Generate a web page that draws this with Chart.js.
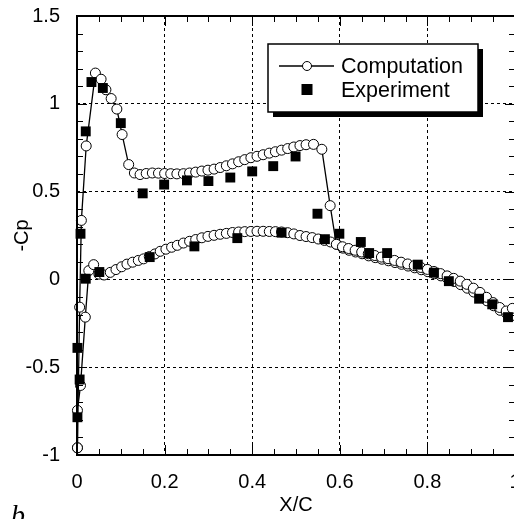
<!DOCTYPE html>
<html lang="en">
<head>
<meta charset="UTF-8">
<title>Cp distribution</title>
<script src="https://cdn.jsdelivr.net/npm/chart.js"></script>
<style>
  html, body { margin: 0; padding: 0; background: #fff; overflow: hidden; }
  canvas { display: block; }
</style>
</head>
<body>
<canvas id="cpChart" width="540" height="519"></canvas>
<script>
// tick labels
const xTicks = [0, 0.2, 0.4, 0.6, 0.8, 1];
const yTicks = [-1, -0.5, 0, 0.5, 1, 1.5];

// computation, upper surface (leading edge -> trailing edge)
const upperX = [0.001, 0.006, 0.010, 0.021, 0.042, 0.055, 0.066, 0.078, 0.091, 0.103, 0.118, 0.131, 0.144,
  0.158, 0.172, 0.186, 0.200, 0.214, 0.228, 0.243, 0.257, 0.271, 0.285, 0.299, 0.313, 0.327, 0.341, 0.355,
  0.369, 0.383, 0.397, 0.411, 0.425, 0.439, 0.453, 0.467, 0.481, 0.495, 0.509, 0.523, 0.540, 0.559, 0.578,
  0.592, 0.606, 0.620, 0.635, 0.650, 0.665, 0.680, 0.695, 0.710, 0.725, 0.740, 0.755, 0.770, 0.785, 0.800,
  0.815, 0.830, 0.845, 0.860, 0.875, 0.890, 0.905, 0.920, 0.935, 0.950, 0.965, 0.980, 0.994];
const upperY = [-0.959, -0.158, 0.336, 0.760, 1.175, 1.140, 1.080, 1.030, 0.970, 0.825, 0.654, 0.606, 0.597,
  0.603, 0.606, 0.605, 0.603, 0.602, 0.601, 0.602, 0.606, 0.611, 0.617, 0.622, 0.628, 0.637, 0.647, 0.658,
  0.670, 0.682, 0.693, 0.701, 0.710, 0.719, 0.727, 0.736, 0.745, 0.754, 0.762, 0.767, 0.769, 0.741, 0.420,
  0.200, 0.186, 0.176, 0.166, 0.156, 0.146, 0.136, 0.127, 0.118, 0.108, 0.098, 0.088, 0.078, 0.068, 0.057,
  0.045, 0.033, 0.020, 0.006, -0.010, -0.028, -0.050, -0.074, -0.102, -0.132, -0.160, -0.180, -0.165];

// computation, lower surface
const lowerX = [0.001, 0.001, 0.008, 0.019, 0.027, 0.038, 0.050, 0.062, 0.076, 0.089, 0.102, 0.114, 0.127,
  0.140, 0.152, 0.165, 0.178, 0.190, 0.203, 0.216, 0.229, 0.243, 0.257, 0.271, 0.285, 0.299, 0.313, 0.327,
  0.341, 0.355, 0.369, 0.383, 0.397, 0.411, 0.425, 0.439, 0.453, 0.467, 0.481, 0.495, 0.509, 0.523, 0.537,
  0.551, 0.565, 0.579, 0.593, 0.607, 0.621, 0.636, 0.651, 0.666, 0.681, 0.696, 0.711, 0.726, 0.741, 0.756,
  0.771, 0.786, 0.801, 0.816, 0.831, 0.846, 0.861, 0.876, 0.891, 0.906, 0.921, 0.936, 0.951, 0.966, 0.981, 0.995];
const lowerY = [-0.959, -0.746, -0.604, -0.215, 0.050, 0.084, 0.030, 0.025, 0.040, 0.056, 0.072, 0.087, 0.098,
  0.108, 0.117, 0.130, 0.145, 0.160, 0.172, 0.183, 0.194, 0.207, 0.217, 0.227, 0.237, 0.245, 0.251, 0.257,
  0.262, 0.267, 0.270, 0.272, 0.273, 0.274, 0.274, 0.273, 0.272, 0.270, 0.266, 0.259, 0.250, 0.244, 0.238,
  0.230, 0.222, 0.213, 0.200, 0.178, 0.166, 0.156, 0.146, 0.134, 0.124, 0.115, 0.106, 0.096, 0.086, 0.076,
  0.066, 0.055, 0.044, 0.032, 0.020, 0.005, -0.012, -0.030, -0.050, -0.072, -0.096, -0.122, -0.150, -0.176,
  -0.195, -0.205];

// experiment
const expX = [0.001, 0.006, 0.001, 0.008, 0.020, 0.020, 0.033, 0.051, 0.059, 0.100, 0.150, 0.166, 0.199,
  0.251, 0.268, 0.300, 0.350, 0.366, 0.400, 0.448, 0.467, 0.499, 0.549, 0.566, 0.599, 0.648, 0.667, 0.708,
  0.778, 0.815, 0.849, 0.918, 0.948, 0.984];
const expY = [-0.785, -0.570, -0.390, 0.260, 0.004, 0.843, 1.124, 0.042, 1.090, 0.890, 0.490, 0.127, 0.540,
  0.564, 0.188, 0.560, 0.580, 0.235, 0.615, 0.645, 0.266, 0.700, 0.374, 0.229, 0.260, 0.213, 0.150, 0.150,
  0.084, 0.038, -0.010, -0.110, -0.142, -0.215];

const FONT = "'Liberation Sans', Arial, sans-serif";
const toPts = (xs, ys) => xs.map((x, i) => ({ x: x, y: ys[i] }));

const compStyle = {
  showLine: true,
  borderColor: '#000',
  borderWidth: 1.3,
  tension: 0,
  pointStyle: 'circle',
  pointRadius: 5,
  pointBackgroundColor: '#fff',
  pointBorderColor: '#000',
  pointBorderWidth: 1,
  clip: false
};

// frame, inward ticks, axis titles, boxed legend
const framePlugin = {
  id: 'frame',
  afterDraw(chart) {
    const { ctx, chartArea: a, scales: { x, y } } = chart;
    ctx.save();
    ctx.strokeStyle = '#000';
    ctx.lineWidth = 1;
    ctx.beginPath();
    for (let i = 0; i <= 20; i++) {
      const px = Math.round(x.getPixelForValue(i * 0.05)) + 0.5;
      const len = i % 4 === 0 ? 10 : 6;
      ctx.moveTo(px, a.bottom); ctx.lineTo(px, a.bottom - len);
      ctx.moveTo(px, a.top); ctx.lineTo(px, a.top + len);
    }
    for (let i = 0; i <= 25; i++) {
      const py = Math.round(y.getPixelForValue(-1 + i * 0.1)) + 0.5;
      const len = i % 5 === 0 ? 10 : 6;
      ctx.moveTo(a.left, py); ctx.lineTo(a.left + len, py);
      ctx.moveTo(a.right, py); ctx.lineTo(a.right - len, py);
    }
    ctx.stroke();
    ctx.lineWidth = 2;
    ctx.strokeRect(a.left, a.top, a.right - a.left, a.bottom - a.top);

    // axis titles
    ctx.fillStyle = '#000';
    ctx.font = '20px ' + FONT;
    ctx.textAlign = 'center';
    ctx.textBaseline = 'middle';
    ctx.fillText('X/C', (a.left + a.right) / 2, 505);
    ctx.save();
    ctx.translate(22, (a.top + a.bottom) / 2);
    ctx.rotate(-Math.PI / 2);
    ctx.fillText('-Cp', 0, 0);
    ctx.restore();

    // panel letter
    ctx.font = "italic 28px 'Liberation Serif', 'Times New Roman', serif";
    ctx.textAlign = 'left';
    ctx.textBaseline = 'alphabetic';
    ctx.fillText('b', 11, 524);

    // legend box with shadow
    const bx = 268, by = 44, bw = 210, bh = 68;
    ctx.fillStyle = '#000';
    ctx.fillRect(bx + 5, by + 5, bw, bh);
    ctx.fillStyle = '#fff';
    ctx.fillRect(bx, by, bw, bh);
    ctx.lineWidth = 1.5;
    ctx.strokeRect(bx, by, bw, bh);

    ctx.lineWidth = 1.3;
    ctx.beginPath();
    ctx.moveTo(279, 66); ctx.lineTo(334, 66);
    ctx.stroke();
    ctx.beginPath();
    ctx.arc(307, 66, 4.5, 0, Math.PI * 2);
    ctx.fillStyle = '#fff';
    ctx.fill();
    ctx.lineWidth = 1;
    ctx.stroke();
    ctx.fillStyle = '#000';
    ctx.fillRect(301.5, 84, 11, 11);

    ctx.font = '21.5px ' + FONT;
    ctx.textAlign = 'left';
    ctx.textBaseline = 'middle';
    ctx.fillText(chart.data.datasets[1].label, 341, 67);
    ctx.fillText(chart.data.datasets[0].label, 341, 91);
    ctx.restore();
  }
};

const edgeColor = (edges) => (c) => edges.includes(c.tick.value) ? 'rgba(0,0,0,0)' : '#000';

new Chart(document.getElementById('cpChart'), {
  type: 'scatter',
  data: {
    datasets: [
      {
        label: 'Experiment',
        data: toPts(expX, expY),
        pointStyle: 'rect',
        pointRadius: 7,
        backgroundColor: '#000',
        borderColor: '#000',
        borderWidth: 0,
        showLine: false,
        clip: false,
        order: 0
      },
      Object.assign({ label: 'Computation', data: toPts(upperX, upperY), order: 1 }, compStyle),
      Object.assign({ label: 'Computation lower', data: toPts(lowerX, lowerY), order: 2 }, compStyle)
    ]
  },
  options: {
    responsive: false,
    animation: false,
    layout: { autoPadding: false, padding: { top: 16, right: 25, left: 0, bottom: 0 } },
    plugins: { legend: { display: false }, tooltip: { enabled: false } },
    scales: {
      x: {
        type: 'linear',
        min: 0,
        max: 1,
        afterBuildTicks: (s) => { s.ticks = xTicks.map(v => ({ value: v })); },
        afterFit: (s) => { s.height = 64; s.paddingLeft = 0; s.paddingRight = 0; },
        ticks: { padding: 15, color: '#000', maxRotation: 0, font: { family: FONT, size: 20 },
          callback: (v) => String(v) },
        grid: { drawTicks: false, lineWidth: 1, color: edgeColor([0, 1]) },
        border: { display: false, dash: [3, 3] }
      },
      y: {
        type: 'linear',
        min: -1,
        max: 1.5,
        afterBuildTicks: (s) => { s.ticks = yTicks.map(v => ({ value: v })); },
        afterFit: (s) => { s.width = 77; s.paddingTop = 0; s.paddingBottom = 0; },
        ticks: { padding: 17, color: '#000', font: { family: FONT, size: 20 },
          callback: (v) => String(v) },
        grid: { drawTicks: false, lineWidth: 1, color: edgeColor([-1, 1.5]) },
        border: { display: false, dash: [3, 3] }
      }
    }
  },
  plugins: [framePlugin]
});
</script>
</body>
</html>
